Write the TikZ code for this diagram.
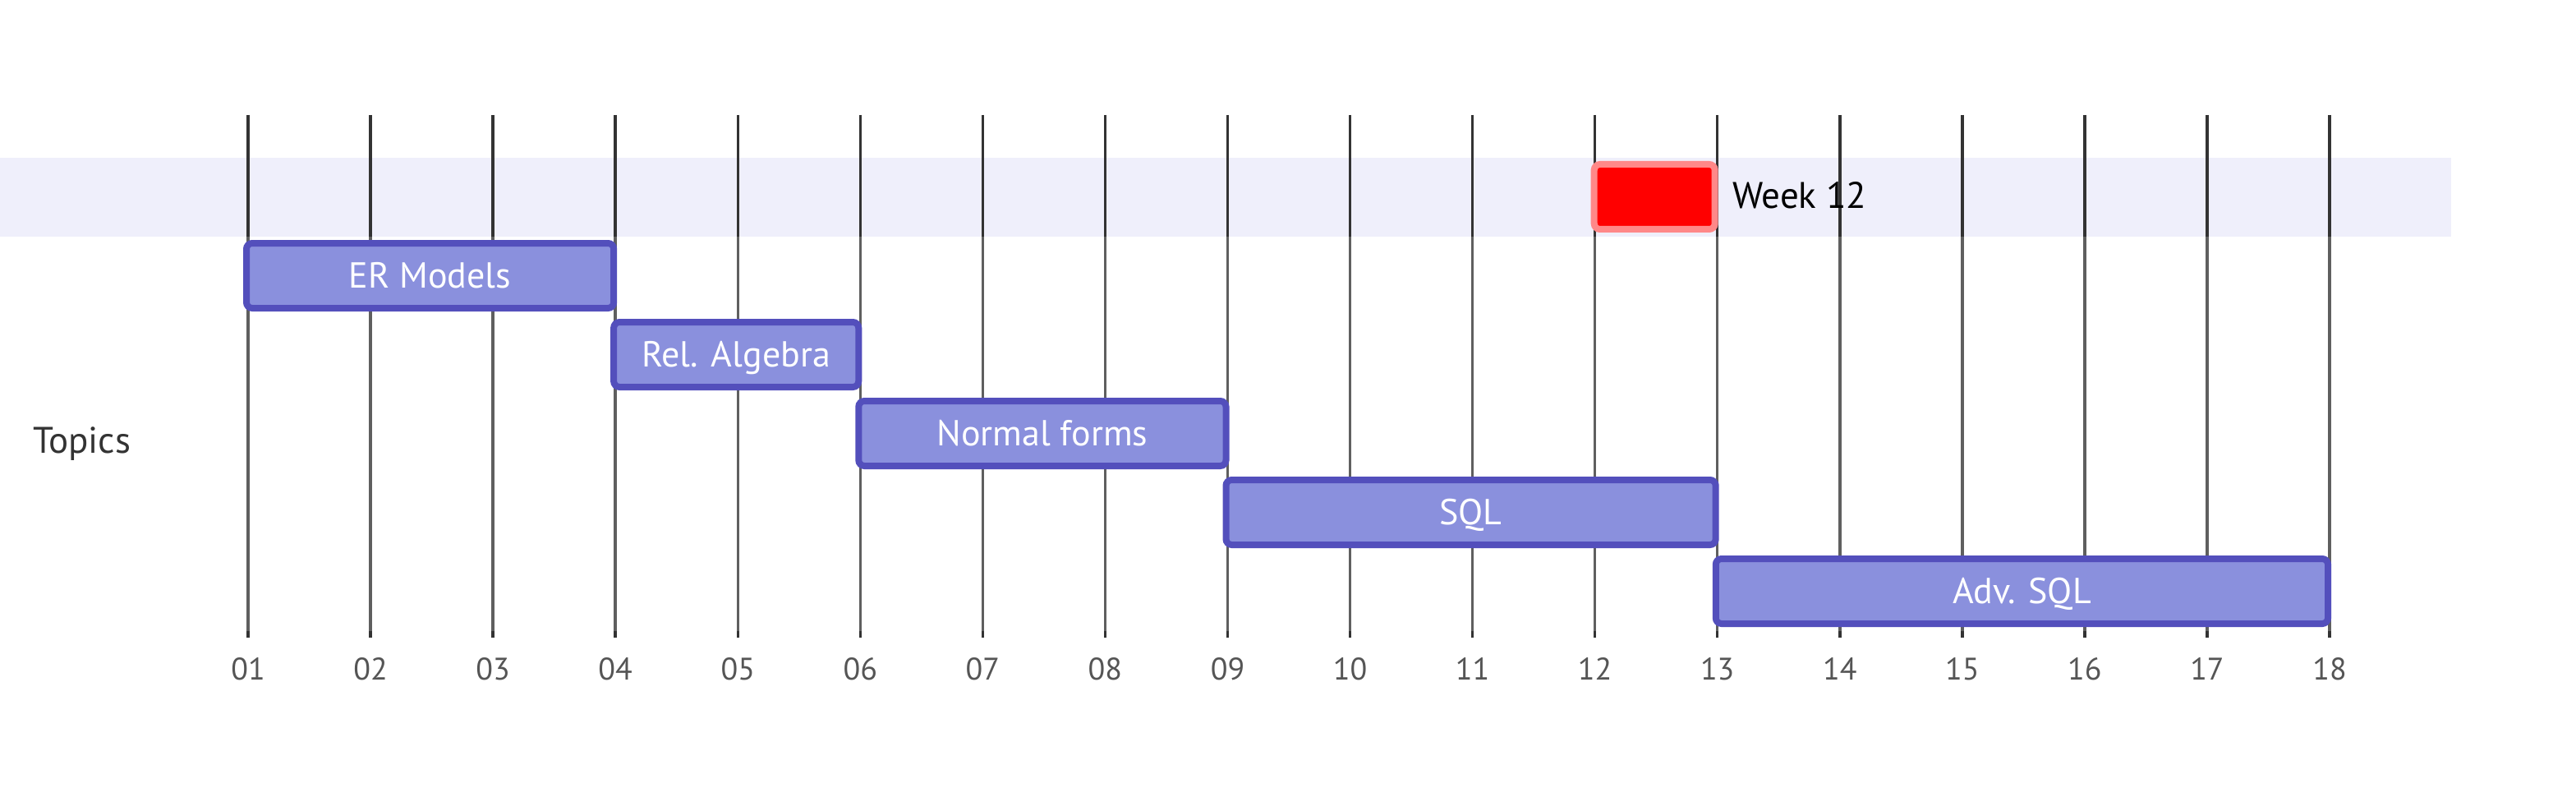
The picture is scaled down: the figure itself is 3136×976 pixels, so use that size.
\documentclass[tikz,border=0pt]{standalone}
\usepackage{fontspec}
\setmainfont{PT Sans}
\definecolor{band}{HTML}{EFEFFB}
\definecolor{barfill}{HTML}{8A90DD}
\definecolor{barline}{HTML}{534FBC}
\definecolor{gridtop}{HTML}{333333}
\definecolor{gridlow}{HTML}{5F5F5F}
\definecolor{ticklbl}{HTML}{555555}
\definecolor{msline}{HTML}{FF8888}
\definecolor{txtdark}{HTML}{333333}
\tikzset{
  bar/.style={draw=barline, fill=barfill, line width=8pt, rounded corners=7pt,
    minimum height=79pt, inner sep=0pt, text=white,
    font=\fontsize{44}{44}\selectfont, text height=30pt, text depth=0pt},
  milestone/.style={draw=msline, fill=red, line width=8pt, rounded corners=7pt,
    minimum height=79pt, minimum width=147pt, inner sep=0pt},
  ticklabel/.style={text=ticklbl, font=\fontsize{38}{38}\selectfont,
    text height=27pt, text depth=0pt, inner sep=0pt},
  plainlabel/.style={text=txtdark, font=\fontsize{45}{45}\selectfont,
    text height=31.5pt, text depth=0pt, inner sep=0pt},
}
\begin{document}
\begin{tikzpicture}[x=1pt, y=-1pt]
  \useasboundingbox[fill=white] (0,0) rectangle (3136,976);
  % section band
  \fill[band] (0,192) rectangle (2984,288);
  % grid lines
  \foreach \w in {1,...,18} {
    \pgfmathsetmacro{\gx}{302+(\w-1)*149.06}
    \draw[gridtop, line width=3.5pt] (\gx,140) -- (\gx,288);
    \draw[gridlow, line width=3.5pt] (\gx,288) -- (\gx,768);
    \draw[gridtop, line width=3.5pt] (\gx,768) -- (\gx,776);
    \pgfmathtruncatemacro{\wi}{\w}
    \node[ticklabel] (t\wi) at (\gx,813.5) {\ifnum\wi<10 0\fi\wi};
  }
  % section title
  \node[plainlabel, anchor=west] (topics) at (40,536) {Topics};
  % milestone
  \node[milestone] (ms) at (2014.2,239.5) {};
  \node[plainlabel, text=black, anchor=west] (mslabel) at (2109,237.5) {Week 12};
  % tasks
  \node[bar, minimum width=447.2pt] (er)  at (523.6,335.5)  {ER Models};
  \node[bar, minimum width=298.1pt] (rel) at (896.2,431.5)  {Rel. Algebra};
  \node[bar, minimum width=447.2pt] (nf)  at (1268.9,527.5) {Normal forms};
  \node[bar, minimum width=596.2pt] (sql) at (1790.6,623.5) {SQL};
  \node[bar, minimum width=745.3pt] (adv) at (2461.4,719.5) {Adv. SQL};
\end{tikzpicture}
\end{document}
